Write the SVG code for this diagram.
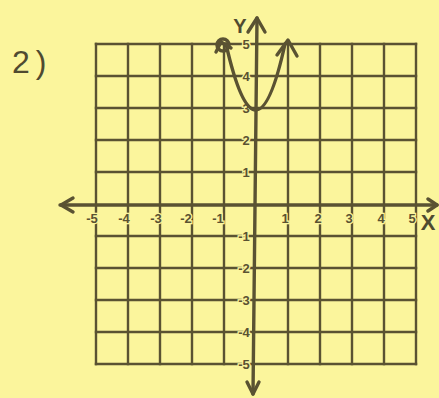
<svg xmlns="http://www.w3.org/2000/svg" width="439" height="398" viewBox="0 0 439 398">
<style>
.g{stroke:#5a5232;stroke-width:2.4;fill:none;stroke-linecap:square}
.ax{stroke:#5a5232;stroke-width:3.4;fill:none;stroke-linecap:round;stroke-linejoin:round}
.t{font-family:"Liberation Sans",Arial,sans-serif;font-weight:bold;font-size:13px;fill:#5a5232;paint-order:stroke;stroke:#fbf59c;stroke-width:2.5}
.big{font-family:"Liberation Sans",Arial,sans-serif;fill:#4f4a30}
</style>
<rect width="439" height="398" fill="#fbf59c"/>
<text class="big" x="12" y="73" font-size="32" letter-spacing="6">2)</text>
<g id="grid" class="g">
<path d="M96 44V364M128 44V364M160 44V364M192 44V364M224 44V364M288 44V364M320 44V364M352 44V364M384 44V364M416 44V364"/>
<path d="M96 44H416M96 76H416M96 108H416M96 140H416M96 172H416M96 236H416M96 268H416M96 300H416M96 332H416M96 364H416"/>
</g>
<g id="axes" class="ax">
<path d="M60 205H437"/>
<path d="M73 198L61 205L73 212"/>
<path d="M428 199L437 205L428 211"/>
<path d="M257 18L253 394"/>
<path d="M248 32L257 18L265 32"/>
<path d="M247 382L253 394L259 382"/>
</g>
<g id="labels">
<text class="t" x="246" y="49" text-anchor="middle">5</text>
<text class="t" x="246" y="81" text-anchor="middle">4</text>
<text class="t" x="246" y="113" text-anchor="middle">3</text>
<text class="t" x="246" y="145" text-anchor="middle">2</text>
<text class="t" x="246" y="177" text-anchor="middle">1</text>
<text class="t" x="244" y="241" text-anchor="middle">-1</text>
<text class="t" x="244" y="273" text-anchor="middle">-2</text>
<text class="t" x="244" y="305" text-anchor="middle">-3</text>
<text class="t" x="244" y="337" text-anchor="middle">-4</text>
<text class="t" x="244" y="369" text-anchor="middle">-5</text>
<text class="t" x="92" y="223" text-anchor="middle">-5</text>
<text class="t" x="124" y="223" text-anchor="middle">-4</text>
<text class="t" x="156" y="223" text-anchor="middle">-3</text>
<text class="t" x="186" y="223" text-anchor="middle">-2</text>
<text class="t" x="218" y="223" text-anchor="middle">-1</text>
<text class="t" x="285" y="223" text-anchor="middle">1</text>
<text class="t" x="318" y="223" text-anchor="middle">2</text>
<text class="t" x="349" y="223" text-anchor="middle">3</text>
<text class="t" x="381" y="223" text-anchor="middle">4</text>
<text class="t" x="412" y="223" text-anchor="middle">5</text>
<text class="big" x="240" y="33" font-size="20" font-weight="bold" text-anchor="middle">Y</text>
<text class="big" x="428" y="230" font-size="22" font-weight="bold" text-anchor="middle">X</text>
</g>
<g id="curve" class="ax">
<path d="M226 44Q256 176 285 44"/>
<path d="M277 55L288 40L297 56"/>
<circle cx="223" cy="45" r="6" stroke-width="3.5"/>
<path d="M216 52L221 42L231 48"/>
</g>
</svg>
